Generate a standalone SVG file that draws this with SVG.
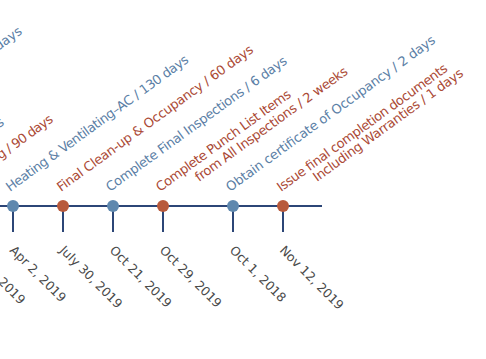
<svg xmlns="http://www.w3.org/2000/svg" width="486" height="359" viewBox="0 0 486 359">
<style>
text{font-family:"DejaVu Sans","Liberation Sans",sans-serif;}
.lb{font-size:13px;}
.dt{font-size:12.5px;fill:#4a4a4a;}
.b{fill:#5b80a6;}
.r{fill:#ab4a36;}
.axis{stroke:#2c4677;stroke-width:2;fill:none;}
.nb{fill:#5f88ae;}
.nr{fill:#b85a3c;}
</style>
<rect width="486" height="359" fill="#ffffff"/>
<g id="connectors">
<line class="axis" x1="0" y1="206" x2="322" y2="206"/>
<line class="axis" x1="13" y1="206" x2="13" y2="232"/>
<line class="axis" x1="63" y1="206" x2="63" y2="232"/>
<line class="axis" x1="113" y1="206" x2="113" y2="232"/>
<line class="axis" x1="163" y1="206" x2="163" y2="232"/>
<line class="axis" x1="233" y1="206" x2="233" y2="232"/>
<line class="axis" x1="283" y1="206" x2="283" y2="232"/>
</g>
<g id="clipped-labels">
<text class="lb b" text-anchor="end" transform="translate(23,33) rotate(-36)">days</text>
<text class="lb b" text-anchor="end" transform="translate(5,124) rotate(-36)">s</text>
<text class="lb r" text-anchor="end" transform="translate(54,121) rotate(-36)" textLength="66">g / 90 days</text>
<text class="dt" text-anchor="end" transform="translate(20,305) rotate(45)">2019</text>
</g>
<g id="node-heating">
<circle class="nb" cx="13" cy="206" r="6"/>
<text class="lb b" transform="translate(10,192) rotate(-36)" textLength="222">Heating &amp; Ventilating–AC / 130 days</text>
<text class="dt" transform="translate(9,251) rotate(45)">Apr 2, 2019</text>
</g>
<g id="node-cleanup">
<circle class="nr" cx="63" cy="206" r="6"/>
<text class="lb r" transform="translate(61,192) rotate(-36)" textLength="239">Final Clean-up &amp; Occupancy / 60 days</text>
<text class="dt" transform="translate(59,251) rotate(45)">July 30, 2019</text>
</g>
<g id="node-final-inspections">
<circle class="nb" cx="113" cy="206" r="6"/>
<text class="lb b" transform="translate(110,192) rotate(-36)" textLength="220">Complete Final Inspections / 6 days</text>
<text class="dt" transform="translate(109,251) rotate(45)">Oct 21, 2019</text>
</g>
<g id="node-punch-list">
<circle class="nr" cx="163" cy="206" r="6"/>
<text class="lb r" transform="translate(160,192) rotate(-36)" textLength="163">Complete Punch List Items</text>
<text class="lb r" transform="translate(199,182) rotate(-36)" textLength="185">from All Inspections / 2 weeks</text>
<text class="dt" transform="translate(159,251) rotate(45)">Oct 29, 2019</text>
</g>
<g id="node-certificate">
<circle class="nb" cx="233" cy="206" r="6"/>
<text class="lb b" transform="translate(230,192) rotate(-36)" textLength="255">Obtain certificate of Occupancy / 2 days</text>
<text class="dt" transform="translate(229,251) rotate(45)">Oct 1, 2018</text>
</g>
<g id="node-completion-docs">
<circle class="nr" cx="283" cy="206" r="6"/>
<text class="lb r" transform="translate(281,192) rotate(-36)" textLength="207">Issue final completion documents</text>
<text class="lb r" transform="translate(317,182) rotate(-36)" textLength="182">Including Warranties / 1 days</text>
<text class="dt" transform="translate(279,251) rotate(45)">Nov 12, 2019</text>
</g>
</svg>
